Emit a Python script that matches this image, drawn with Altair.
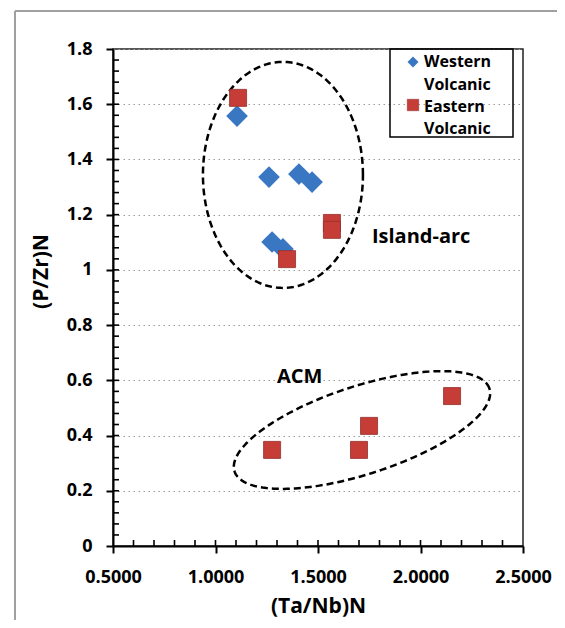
import numpy as np
import pandas as pd
import altair as alt

# ---------------- data ----------------
west_x = [1.105, 1.261, 1.407, 1.471, 1.276, 1.329]
west_y = [1.557, 1.336, 1.347, 1.318, 1.101, 1.076]
east_x = [1.110, 1.568, 1.568, 1.349, 1.276, 1.749, 1.700, 2.154]
east_y = [1.623, 1.170, 1.145, 1.039, 0.348, 0.435, 0.348, 0.543]

x_ticks = [0.5, 1.0, 1.5, 2.0, 2.5]
y_ticks = [0.0, 0.2, 0.4, 0.6, 0.8, 1.0, 1.2, 1.4, 1.6, 1.8]
x_minor = [0.6, 0.7, 0.8, 0.9, 1.0, 1.1, 1.2, 1.3, 1.4, 1.5, 1.6, 1.7, 1.8,
           1.9, 2.0, 2.1, 2.2, 2.3, 2.4]
y_minor = [round(0.04 * k, 2) for k in range(1, 45)]

series_names = ["Western\nVolcanic", "Eastern\nVolcanic"]
labels = ["Island-arc", "ACM"]
label_x = [1.763, 1.300]
label_y = [1.119, 0.612]

# ---------------- layout ----------------
W, H = 410, 497
XMIN, XMAX, YMIN, YMAX = 0.5, 2.5, 0.0, 1.8
PX_X = W / (XMAX - XMIN)
PX_Y = H / (YMAX - YMIN)
FONT = "Open Sans"

xs = alt.Scale(domain=[XMIN, XMAX], nice=False, zero=False)
ys = alt.Scale(domain=[YMIN, YMAX], nice=False, zero=False)


def ellipse(name, cx, cy, a_px, b_px, ang_deg, n=240):
    t = np.linspace(0, 2 * np.pi, n + 1)
    th = np.radians(ang_deg)
    dx = a_px * np.cos(t) * np.cos(th) - b_px * np.sin(t) * np.sin(th)
    dy = a_px * np.cos(t) * np.sin(th) + b_px * np.sin(t) * np.cos(th)
    return pd.DataFrame({"x": cx + dx / PX_X, "y": cy + dy / PX_Y,
                         "i": np.arange(n + 1), "name": name})


ell = pd.concat([
    ellipse("island", 1.329, 1.344, 80, 113, 0),
    ellipse("acm", 1.7146, 0.420, 134, 44, 18),
])

west = pd.DataFrame({"x": west_x, "y": west_y})
east = pd.DataFrame({"x": east_x, "y": east_y})
one = pd.DataFrame({"a": [0]})

x_axis = alt.Axis(values=x_ticks, format=".4f", grid=False, tickSize=7,
                  tickWidth=2, tickColor="black", domainColor="black",
                  domainWidth=2, labelPadding=15, labelFont=FONT,
                  labelFontSize=18, labelFontWeight="bold", labelColor="black",
                  labelFlush=False, labelOverlap=False, labelBound=False,
                  title="(Ta/Nb)N", titleFont=FONT, titleFontSize=21,
                  titleFontWeight="bold", titleColor="black",
                  titleBaseline="middle", titleX=W / 2, titleY=60)
y_axis = alt.Axis(values=y_ticks, format=".1~f", grid=True,
                  gridDash=[1.5, 3.5], gridColor="#9a9a9a", gridWidth=1.2,
                  tickSize=7, tickWidth=2, tickColor="black",
                  domainColor="black", domainWidth=2, labelPadding=14,
                  labelFont=FONT, labelFontSize=18, labelFontWeight="bold",
                  labelColor="black", labelFlush=False, labelOverlap=False,
                  labelBound=False, title="(P/Zr)N", titleFont=FONT,
                  titleFontSize=21, titleFontWeight="bold", titleColor="black",
                  titleAngle=270, titleAlign="center", titleBaseline="middle",
                  titleX=-72, titleY=222)

west_layer = alt.Chart(west).mark_point(
    shape="diamond", filled=True, size=470, color="#3A77C3", opacity=1
).encode(x=alt.X("x:Q", scale=xs, axis=x_axis),
         y=alt.Y("y:Q", scale=ys, axis=y_axis))

east_layer = alt.Chart(east).mark_point(
    shape="square", filled=True, size=290, fill="#C63C37", stroke="#93302C",
    strokeWidth=0.8, opacity=1
).encode(x=alt.X("x:Q", scale=xs), y=alt.Y("y:Q", scale=ys))

ell_layer = alt.Chart(ell).mark_line(
    color="black", strokeDash=[7, 4], strokeWidth=2.5
).encode(x=alt.X("x:Q", scale=xs), y=alt.Y("y:Q", scale=ys),
         order="i:Q", detail="name:N")

ytick_layer = alt.Chart(pd.DataFrame({"y": y_minor})).mark_rule(
    color="black", strokeWidth=1.6
).encode(y=alt.Y("y:Q", scale=ys), x=alt.value(0), x2=alt.value(6))

xtick_layer = alt.Chart(pd.DataFrame({"x": x_minor})).mark_rule(
    color="black", strokeWidth=1.6
).encode(x=alt.X("x:Q", scale=xs), y=alt.value(H), y2=alt.value(H - 6))

text_layer = alt.Chart(pd.DataFrame({"t": labels, "x": label_x,
                                     "y": label_y})).mark_text(
    font=FONT, fontSize=20, fontWeight="bold", color="black",
    align="left", baseline="middle"
).encode(x=alt.X("x:Q", scale=xs), y=alt.Y("y:Q", scale=ys), text="t:N")

# legend (drawn by hand, inside the plot's top-right)
leg_box = alt.Chart(one).mark_rect(
    fill="white", fillOpacity=0, stroke="black", strokeWidth=1.5
).encode(x=alt.value(277), x2=alt.value(400), y=alt.value(0),
         y2=alt.value(88))
leg_w = alt.Chart(one).mark_point(
    shape="diamond", filled=True, size=120, color="#3A77C3", opacity=1
).encode(x=alt.value(300), y=alt.value(13))
leg_e = alt.Chart(one).mark_point(
    shape="square", filled=True, size=130, fill="#C63C37", stroke="#93302C",
    strokeWidth=0.6, opacity=1
).encode(x=alt.value(300), y=alt.value(56))
leg_tw = alt.Chart(one).mark_text(
    font=FONT, fontSize=16, fontWeight="bold", color="black", align="left",
    baseline="middle", lineBreak="\n", lineHeight=23
).encode(x=alt.value(311), y=alt.value(13), text=alt.value(series_names[0]))
leg_te = alt.Chart(one).mark_text(
    font=FONT, fontSize=16, fontWeight="bold", color="black", align="left",
    baseline="middle", lineBreak="\n", lineHeight=22
).encode(x=alt.value(311), y=alt.value(58), text=alt.value(series_names[1]))

# grey outer frame of the figure
frame_v = alt.Chart(one).mark_rule(color="#a0a0a0", strokeWidth=2).encode(
    x=alt.value(-98), y=alt.value(-38), y2=alt.value(700))
frame_h = alt.Chart(one).mark_rule(color="#a0a0a0", strokeWidth=2).encode(
    y=alt.value(-38), x=alt.value(-98), x2=alt.value(700))

chart = alt.layer(
    west_layer, ell_layer, east_layer, ytick_layer, xtick_layer, text_layer,
    leg_box, leg_w, leg_e, leg_tw, leg_te, frame_v, frame_h
).properties(
    width=W, height=H,
    autosize=alt.AutoSizeParams(type="none"),
    padding={"left": 105, "top": 41, "right": 34, "bottom": 74},
    background="white",
).configure_view(stroke="#222222", strokeWidth=1.5)

chart.save("out.html", embed_options={"renderer": "svg", "actions": False})
